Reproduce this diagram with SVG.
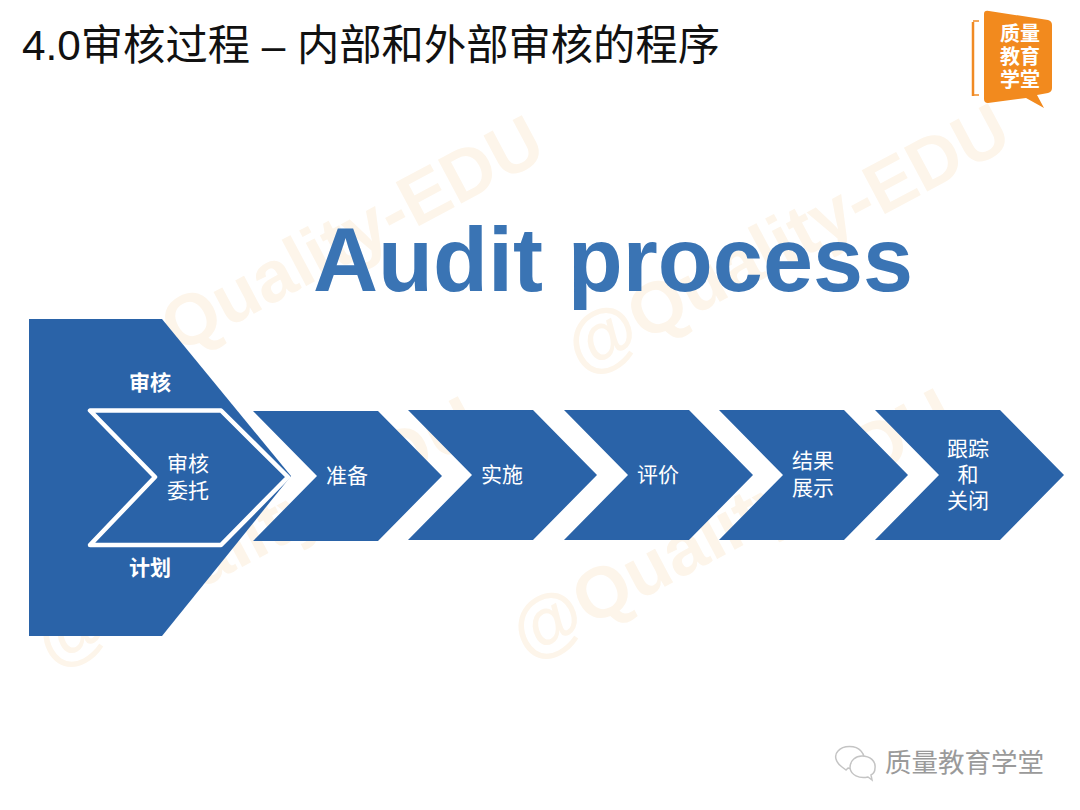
<svg xmlns="http://www.w3.org/2000/svg" width="1080" height="810" viewBox="0 0 1080 810">
<style>
.cjk{font-family:"Liberation Sans","Noto Sans CJK SC",sans-serif}
.wm{font-family:"Liberation Sans",sans-serif;font-weight:700;font-size:72px;fill:#fdf5ea}
.chev{fill:#2a63a8}
.lbl{font-family:"Noto Sans CJK SC",sans-serif;font-size:21px;fill:#fff;text-anchor:middle}
.b{font-weight:700}
</style>
<rect width="1080" height="810" fill="#fff"/>
<g id="watermarks">
<text class="wm" transform="translate(116 387) rotate(-28)">@Quality-EDU</text>
<text class="wm" transform="translate(582 375) rotate(-28)">@Quality-EDU</text>
<text class="wm" transform="translate(52 668) rotate(-28)">@Quality-EDU</text>
<text class="wm" transform="translate(527 660) rotate(-28)">@Quality-EDU</text>
</g>
<text id="title" class="cjk" x="22" y="60" font-size="42.300" fill="#111">4.0审核过程 – 内部和外部审核的程序</text>
<text id="heading" x="613" y="291" font-family="Liberation Sans,sans-serif" font-weight="700" font-size="90" fill="#3a74b4" text-anchor="middle">Audit process</text>
<g id="logo">
<path d="M973 22V96" fill="none" stroke="#f08a24" stroke-width="2.500"/>
<path d="M973 21H979M973 95H979" fill="none" stroke="#f08a24" stroke-width="1.500"/>
<path d="M984 14Q984 10 989 11L1048 20Q1052 21 1052 25V88Q1052 92 1048 93L1037 95L1044 108L1026 98L988 103Q984 103 984 99Z" fill="#f28a1e"/>
<text class="cjk" x="1020" y="41" font-size="20" font-weight="700" fill="#fff" text-anchor="middle">质量</text>
<text class="cjk" x="1020" y="64" font-size="20" font-weight="700" fill="#fff" text-anchor="middle">教育</text>
<text class="cjk" x="1020" y="87" font-size="20" font-weight="700" fill="#fff" text-anchor="middle">学堂</text>
</g>
<g id="node-plan">
<path class="chev" d="M29 319H162L291 476L162 636H29Z"/>
<text class="lbl b" x="150" y="390">审核</text>
<text class="lbl b" x="150" y="575">计划</text>
</g>
<g id="node-mandate">
<path class="chev" d="M90 410.500H221L288 477L221 545H90L155 477Z" stroke="#fff" stroke-width="4.500" stroke-linejoin="round"/>
<text class="lbl" x="188" y="471">审核</text>
<text class="lbl" x="188" y="498">委托</text>
</g>
<g id="node-prep">
<path class="chev" d="M253 411H378L442 476L378 541H253L317 476Z"/>
<text class="lbl" x="347" y="483">准备</text>
</g>
<g id="node-exec">
<path class="chev" d="M408 410H533L597 475L533 540H408L472 475Z"/>
<text class="lbl" x="502" y="482">实施</text>
</g>
<g id="node-eval">
<path class="chev" d="M564 410H689L753 475L689 540H564L628 475Z"/>
<text class="lbl" x="658" y="482">评价</text>
</g>
<g id="node-result">
<path class="chev" d="M719 410H844L908 475L844 540H719L783 475Z"/>
<text class="lbl" x="813" y="468">结果</text>
<text class="lbl" x="813" y="495">展示</text>
</g>
<g id="node-follow">
<path class="chev" d="M875 410H1000L1064 475L1000 540H875L939 475Z"/>
<text class="lbl" x="968" y="456">跟踪</text>
<text class="lbl" x="968" y="482">和</text>
<text class="lbl" x="968" y="508">关闭</text>
</g>
<g id="connectors"></g>
<g id="footer">
<g fill="#fff" stroke="#c4c4c4" stroke-width="1.500">
<path d="M846 770L842 767C835 762 834 755 838 751C843 745 856 745 861 751C865 755 865 761 862 765C857 769 851 769 848 768Z"/>
<path d="M872 780L868 777C859 779 851 775 850 768C850 760 856 756 862 756C870 756 876 761 875 768C875 771 873 774 871 775Z"/>
</g>
<text class="cjk" x="885" y="772" font-size="26.500" fill="#9a9a9a">质量教育学堂</text>
</g>
</svg>
